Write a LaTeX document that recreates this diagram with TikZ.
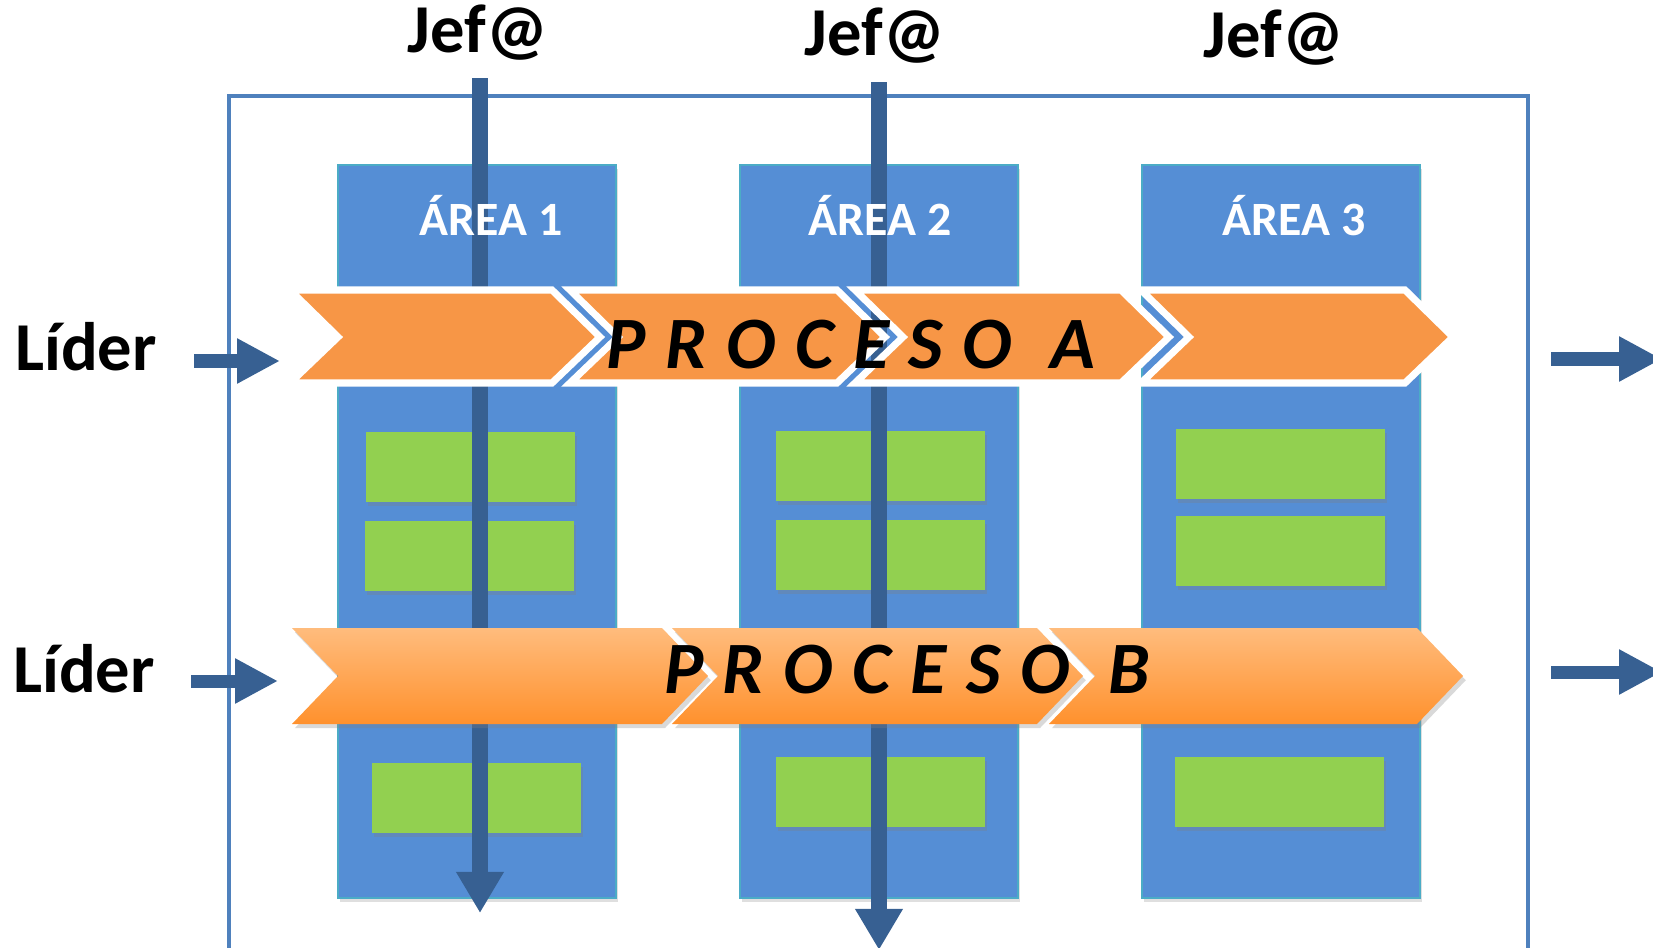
\documentclass[tikz,border=0pt]{standalone}
\usepackage{fontspec}
\setmainfont{Carlito}
\newfontfamily\procfont[WordSpace=1.17]{Carlito}
\usetikzlibrary{arrows.meta,shadows}

\definecolor{marco}{HTML}{4F81BD}
\definecolor{columna}{HTML}{558ED5}
\definecolor{bordecol}{HTML}{4BACC6}
\definecolor{azuloscuro}{HTML}{376092}
\definecolor{verde}{HTML}{92D050}
\definecolor{naranja}{HTML}{F79646}
\definecolor{naranjaclaro}{HTML}{FFBC7D}
\definecolor{naranjaoscuro}{HTML}{FF912D}

\begin{document}
\begin{tikzpicture}[x=0.01cm,y=-0.01cm,
  area/.style={fill=columna,draw=bordecol,line width=0.4pt,
    drop shadow={shadow xshift=0.6pt,shadow yshift=-1pt,opacity=0.25}},
  tarea/.style={fill=verde,
    drop shadow={shadow xshift=0.6pt,shadow yshift=-1pt,opacity=0.3}},
  mando/.style={azuloscuro,line width=4.3pt,-{Triangle[width=12.8pt,length=11.7pt]}},
  entrada/.style={azuloscuro,line width=3.7pt,-{Triangle[width=12pt,length=12.2pt]}},
  pasoA/.style={fill=naranja,draw=white,line width=2pt},
  pasoB/.style={top color=naranjaclaro,bottom color=naranjaoscuro,
    drop shadow={shadow xshift=0.8pt,shadow yshift=-1.2pt,opacity=0.3}},
  rotulo/.style={anchor=base,font=\bfseries\fontsize{19.5}{23}\selectfont},
  titarea/.style={anchor=base,text=white,font=\bfseries\fontsize{13.6}{16}\selectfont},
  proceso/.style={anchor=base,font=\procfont\bfseries\itshape\fontsize{21}{25}\selectfont}]
\useasboundingbox (0,0) rectangle (1653,948);

% frame
\draw[marco,line width=1pt] (229,960) -- (229,96) -- (1528,96) -- (1528,960);

% areas
\foreach \x in {338,740,1142}
  \filldraw[area] (\x,165) rectangle (\x+278,898);

% tasks
\foreach \x/\y in {366/432,365/521,372/763,776/431,776/520,776/757,1176/429,1176/516,1175/757}
  \fill[tarea] (\x,\y) rectangle (\x+209,\y+70);

% line of command
\coordinate (j1a) at (480,78);  \coordinate (j1b) at (480,913);
\coordinate (j2a) at (879,82);  \coordinate (j2b) at (879,950);
\draw[mando] (j1a) -- (j1b);
\draw[mando] (j2a) -- (j2b);

% process A
\foreach \l/\r in {290/552,570/837,855/1121,1141/1405}
  \filldraw[pasoA] (\l,290) -- (\r,290) -- (\r+48,337) -- (\r,383)
    -- (\l,383) -- (\l+48,337) -- cycle;
\node[proceso] (procA) at (851,368) {P R O C E S O\ \ A};

% process B
\foreach \l/\r in {292/662,672/1037,1049/1417}
  \path[pasoB] (\l,628) -- (\r,628) -- (\r+46,676) -- (\r,724)
    -- (\l,724) -- (\l+46,676) -- cycle;
\node[proceso] (procB) at (907,693) {P R O C E S O\ \ B};

% labels
\node[titarea] (area1) at (491,235) {ÁREA 1};
\node[titarea] (area2) at (880,235) {ÁREA 2};
\node[titarea] (area3) at (1294,235) {ÁREA 3};
\node[rotulo] (jefe1) at (478,52) {Jef@};
\node[rotulo] (jefe2) at (875,55) {Jef@};
\node[rotulo] (jefe3) at (1274,57) {Jef@};
\node[rotulo] (lider1) at (86,370) {Líder};
\node[rotulo] (lider2) at (84,692) {Líder};

% in and out
\coordinate (e1a) at (194,361);  \coordinate (e1b) at (280,361);
\coordinate (e2a) at (191,681);  \coordinate (e2b) at (278,681);
\coordinate (s1a) at (1551,359); \coordinate (s1b) at (1662,359);
\coordinate (s2a) at (1551,672); \coordinate (s2b) at (1662,672);
\draw[entrada] (e1a) -- (e1b);
\draw[entrada] (e2a) -- (e2b);
\draw[entrada] (s1a) -- (s1b);
\draw[entrada] (s2a) -- (s2b);
\end{tikzpicture}
\end{document}
